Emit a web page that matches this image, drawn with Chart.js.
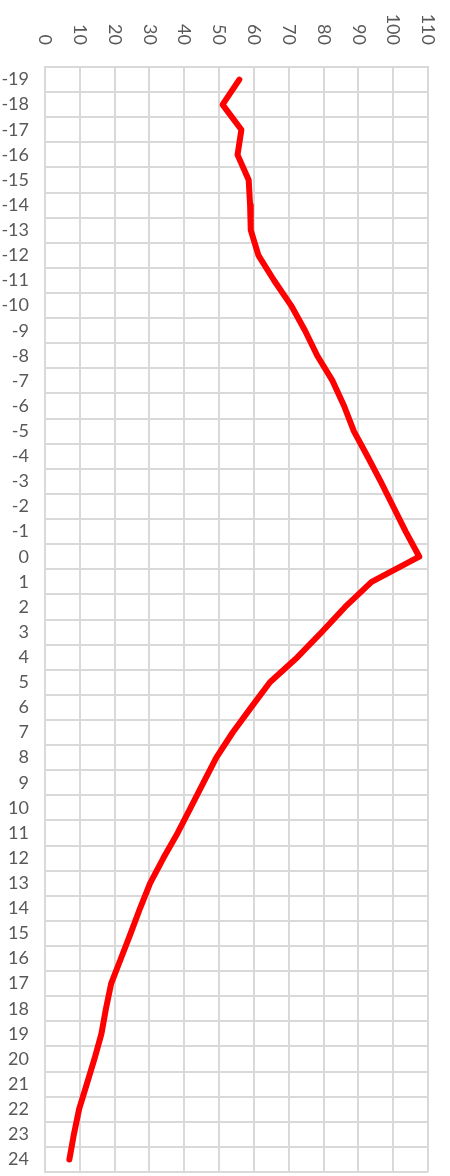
<!DOCTYPE html>
<html>
<head>
<meta charset="utf-8">
<script src="https://cdn.jsdelivr.net/npm/chart.js@4/dist/chart.umd.min.js"></script>
<style>
  html, body { margin: 0; padding: 0; background: #ffffff; }
  #wrap { width: 450px; height: 1176px; position: relative; }
</style>
</head>
<body>
<div id="wrap"><canvas id="c" width="450" height="1176"></canvas></div>
<script>
const categories = ["-19","-18","-17","-16","-15","-14","-13","-12","-11","-10","-9","-8","-7","-6","-5","-4","-3","-2","-1","0","1","2","3","4","5","6","7","8","9","10","11","12","13","14","15","16","17","18","19","20","21","22","23","24"];
const values = [55.8,51.0,56.4,55.3,58.5,58.9,59.1,61.3,65.8,70.7,74.7,78.2,82.6,85.9,88.7,92.6,96.4,100.0,103.6,107.5,93.8,86.2,79.5,72.5,64.6,59.2,53.9,49.2,45.5,41.8,38.1,34.0,30.2,27.3,24.6,21.8,19.0,17.5,16.2,14.2,12.0,9.8,8.3,7.0];
const valueTicks = [0,10,20,30,40,50,60,70,80,90,100,110];

const FONT = "Lato, 'Open Sans', sans-serif";
const TEXT = "#595959";
const GRID = "#d9d9d9";

const topLabels = {
  id: 'topLabels',
  afterDraw(chart) {
    const sx = chart.scales.x;
    const ctx = chart.ctx;
    ctx.save();
    ctx.fillStyle = TEXT;
    ctx.font = "18px " + FONT;
    ctx.textAlign = 'right';
    ctx.textBaseline = 'middle';
    valueTicks.forEach(v => {
      const px = sx.getPixelForValue(v);
      ctx.save();
      ctx.translate(px, 45);
      ctx.rotate(Math.PI / 2);
      ctx.fillText(String(v), 0, 0);
      ctx.restore();
    });
    ctx.restore();
  }
};

new Chart(document.getElementById('c'), {
  type: 'line',
  data: {
    labels: categories,
    datasets: [{
      data: values,
      borderColor: '#ff0000',
      borderWidth: 6,
      borderCapStyle: 'round',
      borderJoinStyle: 'round',
      pointRadius: 0,
      fill: false,
      tension: 0
    }]
  },
  options: {
    indexAxis: 'y',
    responsive: false,
    animation: false,
    layout: { padding: { left: 0, right: 22, top: 0, bottom: 4 } },
    plugins: { legend: { display: false }, tooltip: { enabled: false } },
    scales: {
      x: {
        type: 'linear',
        position: 'top',
        min: 0,
        max: 110,
        ticks: { display: false, stepSize: 10 },
        grid: { color: GRID, lineWidth: 2, drawTicks: false },
        border: { display: true, color: GRID, width: 2 },
        afterFit(s) { s.height = 67; s.paddingLeft = 0; s.paddingRight = 0; }
      },
      y: {
        type: 'category',
        position: 'left',
        offset: true,
        ticks: { autoSkip: false, color: TEXT, font: { family: FONT, size: 18 }, padding: 16 },
        grid: { offset: true, color: GRID, lineWidth: 2, drawTicks: false },
        border: { display: true, color: GRID, width: 2 },
        afterFit(s) { s.width = 45; s.paddingTop = 0; s.paddingBottom = 0; }
      }
    }
  },
  plugins: [topLabels]
});
</script>
</body>
</html>
